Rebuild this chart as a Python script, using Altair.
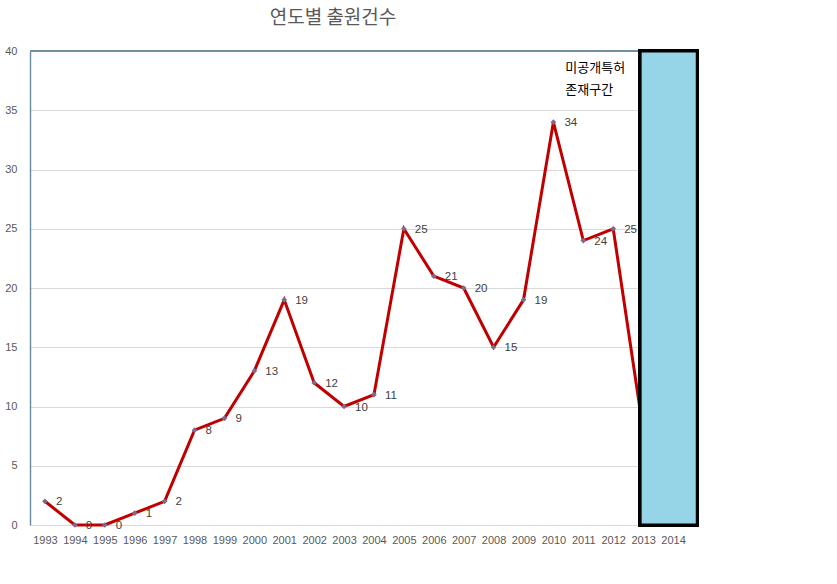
import altair as alt
import pandas as pd

years = list(range(1993, 2014))
counts = [2, 0, 0, 1, 2, 8, 9, 13, 19, 12, 10, 11, 25, 21, 20, 15, 19, 34, 24, 25, 8]
label_years = list(range(1993, 2013))
tick_years = list(range(1993, 2015))
note_lines = ["미공개특허", "존재구간"]
unpub_start, unpub_end = 2012.9, 2014.81
note_x, note_y = 2010.4, 38.55

df = pd.DataFrame({"year": years, "count": counts})
df_lab = df[df["year"].isin(label_years)]

X_DOMAIN = [1992.5, 2014.5]
x_scale = alt.Scale(domain=X_DOMAIN, nice=False, zero=False)
y_scale = alt.Scale(domain=[0, 40], nice=False)
x_axis = alt.Axis(values=tick_years, format="d", title=None, grid=False,
                  ticks=False, labelPadding=9, labelFontSize=11,
                  labelColor="#595959", labelFont="Liberation Sans",
                  domainColor="#d9d9d9", labelFlush=False, labelOverlap=False,
                  labelBound=False)
y_axis = alt.Axis(values=list(range(0, 41, 5)), title=None, ticks=False,
                  labelPadding=13, labelFontSize=11, labelColor="#595959",
                  labelFont="Liberation Sans", gridColor="#d9d9d9",
                  domainColor="#6f8fa3", domainWidth=1.5)

x = alt.X("year:Q", scale=x_scale, axis=x_axis)
y = alt.Y("count:Q", scale=y_scale, axis=y_axis)

base = alt.Chart(df)
line = base.mark_line(color="#c00000", strokeWidth=3).encode(x=x, y=y)
pts = base.mark_point(shape="diamond", filled=True, size=32, color="#7e6a8e",
                      opacity=1).encode(x=x, y=y)
labels = alt.Chart(df_lab).mark_text(align="left", dx=11, dy=1, fontSize=11.5,
                                     color="#404040", font="Liberation Sans").encode(
    x=x, y=y, text="count:Q")

top_rule = alt.Chart(df).mark_rule(color="#6f8fa3", strokeWidth=1.5).encode(
    y=alt.datum(40, scale=y_scale, axis=y_axis))

rect = alt.Chart(df).mark_rect(fill="#96d5e8", stroke="black", strokeWidth=3).encode(
    x=alt.datum(unpub_start, scale=x_scale, axis=x_axis), x2=alt.datum(unpub_end),
    y=alt.datum(0, scale=y_scale, axis=y_axis), y2=alt.datum(40))

note = alt.Chart(pd.DataFrame({"t": [note_lines], "year": [note_x], "count": [note_y]})).mark_text(
    align="left", baseline="middle", fontSize=13, lineHeight=22, color="black",
    font="Noto Sans CJK KR").encode(x=x, y=y, text="t")

chart = alt.layer(line, pts, labels, top_rule, rect, note).properties(
    width=658, height=474,
    title=alt.TitleParams("연도별 출원건수", fontSize=19, color="#595959",
                          fontWeight="normal", font="Noto Sans CJK KR",
                          anchor="middle", dx=-26, offset=17),
    autosize=alt.AutoSizeParams(type="none"),
    padding={"left": 30, "top": 51, "right": 149, "bottom": 59},
).configure_view(stroke=None)

chart.save("out.html", embed_options={"renderer": "svg", "actions": False})
